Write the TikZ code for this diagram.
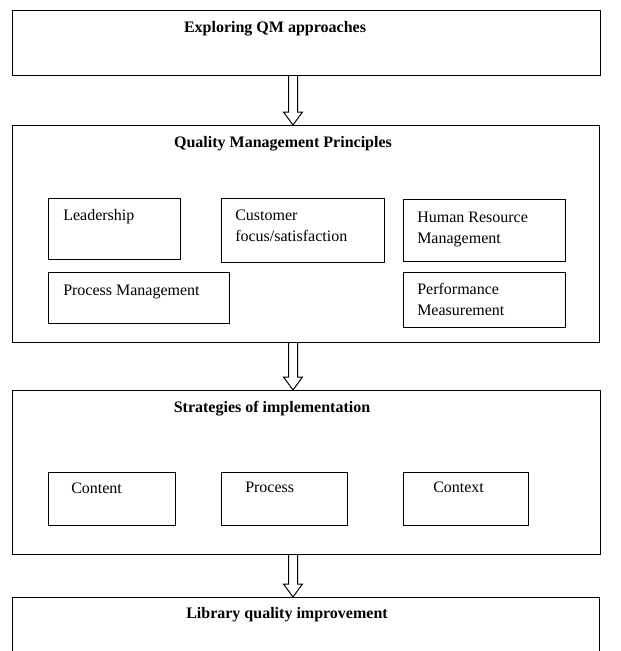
\documentclass[tikz,border=0pt]{standalone}
\usepackage{fontspec}
\setmainfont{Liberation Serif}
\usetikzlibrary{calc}
\newcommand{\blockarrow}[2]{%
  \draw[blockarr] ($(#1.south -| ax)+(-4.5,0)$) -- ($(#2.north -| ax)+(-4.5,-13)$)
    -- ($(#2.north -| ax)+(-9.5,-13)$) -- (#2.north -| ax)
    -- ($(#2.north -| ax)+(9.5,-13)$) -- ($(#2.north -| ax)+(4.5,-13)$)
    -- ($(#1.south -| ax)+(4.5,0)$);}
\begin{document}
\begin{tikzpicture}[x=0.75pt,y=-0.75pt,
  box/.style={draw=black,line width=0.75pt,anchor=north west,inner sep=0pt,outer sep=0pt},
  title/.style={anchor=base,font=\fontsize{12}{14}\selectfont\bfseries,inner sep=0pt},
  txt/.style={anchor=base west,align=left,font=\fontsize{12}{15.75}\selectfont,inner sep=0pt},
  blockarr/.style={draw=black,line width=0.75pt,line join=miter}]
\useasboundingbox (0,0) rectangle (621,651);
\clip (0,0) rectangle (621,651);
\coordinate (ax) at (293,0);
% main boxes
\node[box,minimum width=441pt,minimum height=48.75pt] (top) at (12,10) {};
\node[box,minimum width=440.25pt,minimum height=162.75pt] (prin) at (12,125) {};
\node[box,minimum width=441pt,minimum height=123pt] (strat) at (12,390) {};
\node[box,minimum width=440.25pt,minimum height=54.75pt] (lib) at (12,597) {};
% titles
\node[title] (ttop) at (275,32) {Exploring QM approaches};
\node[title] (tprin) at (283,147) {Quality Management Principles};
\node[title] (tstrat) at (272,412) {Strategies of implementation};
\node[title] (tlib) at (287,618) {Library quality improvement};
% principle boxes
\node[box,minimum width=99pt,minimum height=45.75pt] (lead) at (48,198) {};
\node[box,minimum width=122.25pt,minimum height=48pt] (cust) at (221,198) {};
\node[box,minimum width=121.5pt,minimum height=46.5pt] (hrm) at (403,199) {};
\node[box,minimum width=135.75pt,minimum height=38.25pt] (pm) at (48,272) {};
\node[box,minimum width=121.5pt,minimum height=41.25pt] (perf) at (403,272) {};
\node[txt] (tlead) at (63,220) {Leadership};
\node[txt] (tcust) at (235,241) {Customer\\focus/satisfaction};
\node[txt] (thrm) at (417,243) {Human Resource\\Management};
\node[txt] (tpm) at (63,295) {Process Management};
\node[txt] (tperf) at (417,315) {Performance\\Measurement};
% strategy boxes
\node[box,minimum width=95.25pt,minimum height=39.75pt] (cont) at (48,472) {};
\node[box,minimum width=94.5pt,minimum height=39.75pt] (proc) at (221,472) {};
\node[box,minimum width=93.75pt,minimum height=39.75pt] (ctx) at (403,472) {};
\node[txt] (tcont) at (71,493) {Content};
\node[txt] (tproc) at (245,492) {Process};
\node[txt] (tctx) at (433,492) {Context};
% arrows
\blockarrow{top}{prin}
\blockarrow{prin}{strat}
\blockarrow{strat}{lib}
\end{tikzpicture}
\end{document}
